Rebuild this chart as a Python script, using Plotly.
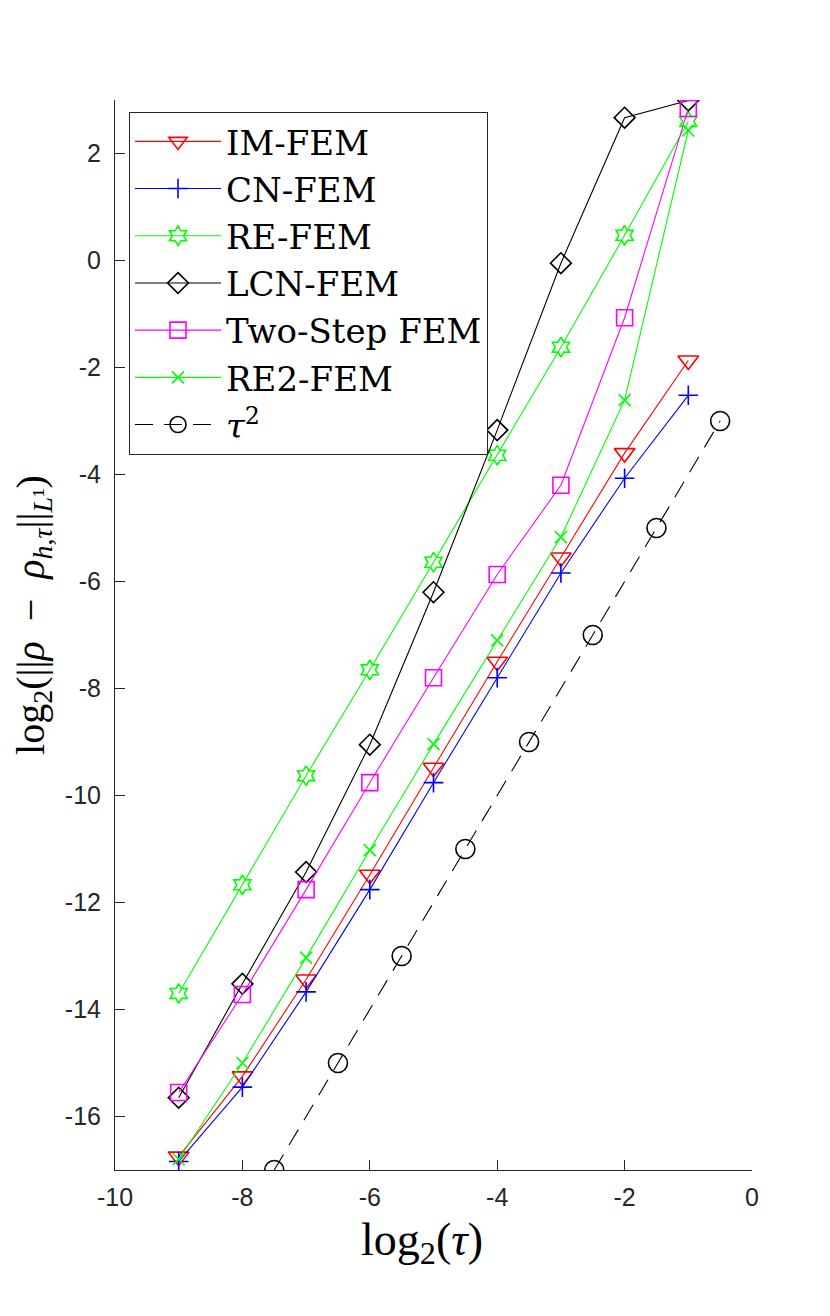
import plotly.graph_objects as go

# ---- data ----
log2_tau = [-9, -8, -7, -6, -5, -4, -3, -2, -1]
im_fem = [-16.75, -15.25, -13.44, -11.48, -9.48, -7.5, -5.55, -3.6, -1.87]
cn_fem = [-16.84, -15.45, -13.67, -11.76, -9.76, -7.8, -5.84, -4.07, -2.52]
re_fem = [-13.7, -11.67, -9.63, -7.65, -5.64, -3.64, -1.62, 0.47, 2.6]
lcn_fem = [-15.65, -13.52, -11.43, -9.05, -6.2, -3.17, -0.05, 2.67, 2.99]
two_step_fem = [-15.55, -13.72, -11.76, -9.76, -7.8, -5.87, -4.2, -1.07, 2.84]
re2_fem = [-16.8, -15.0, -13.03, -11.02, -9.04, -7.1, -5.17, -2.61, 2.43]
ref_x = [-7.5, -6.5, -5.5, -4.5, -3.5, -2.5, -1.5, -0.5]
ref_y = [-17, -15, -13, -11, -9, -7, -5, -3]

x_ticks = [-10, -8, -6, -4, -2, 0]
x_ticktext = ["-10", "-8", "-6", "-4", "-2", "0"]
y_ticks = [-16, -14, -12, -10, -8, -6, -4, -2, 0, 2]
y_ticktext = ["-16", "-14", "-12", "-10", "-8", "-6", "-4", "-2", "0", "2"]

series = [
    ("IM-FEM", log2_tau, im_fem, "#FF0000", "triangle-down-open", 18, "solid"),
    ("CN-FEM", log2_tau, cn_fem, "#0000FF", "cross-thin-open", 14, "solid"),
    ("RE-FEM", log2_tau, re_fem, "#00FF00", "hexagram-open", 15, "solid"),
    ("LCN-FEM", log2_tau, lcn_fem, "#000000", "diamond-open", 16, "solid"),
    ("Two-Step FEM", log2_tau, two_step_fem, "#FF00FF", "square-open", 16, "solid"),
    ("RE2-FEM", log2_tau, re2_fem, "#00FF00", "x-thin-open", 12, "solid"),
    ("<i>τ</i><sup>2</sup>", ref_x, ref_y, "#000000", "circle-open", 19, "18px,11px"),
]

fig = go.Figure()
for name, xs, ys, color, sym, size, dash in series:
    fig.add_trace(go.Scatter(
        x=xs, y=ys, name=name, mode="lines+markers",
        line=dict(color=color, width=1.1, dash=dash),
        marker=dict(symbol=sym, size=size, color=color,
                    line=dict(color=color, width=1.6)),
    ))

axis_color = "#262626"
ytitle = ("&nbsp;&nbsp;&nbsp;&nbsp;log<sub>2</sub>(||<i>ρ</i>  −  <i>ρ</i><sub><i>h</i>,<i>τ</i></sub>||"
          "<sub><i>L</i>¹</sub>)")
xtitle = "log<sub>2</sub>(<i>τ</i>)&nbsp;&nbsp;"
fig.update_layout(
    width=830, height=1316,
    paper_bgcolor="white", plot_bgcolor="white",
    margin=dict(l=107, r=86, t=92, b=154),
    showlegend=True,
    legend=dict(
        x=0.022, y=0.989, xanchor="left", yanchor="top",
        bgcolor="white", bordercolor=axis_color, borderwidth=1,
        font=dict(family="DejaVu Serif", size=34, color="black"),
        itemwidth=86, tracegroupgap=0,
    ),
    xaxis=dict(
        range=[-10, 0], tickvals=x_ticks, ticktext=x_ticktext,
        showgrid=False, zeroline=False, showline=True, linecolor=axis_color,
        linewidth=1, ticks="inside", ticklen=10, tickcolor=axis_color,
        tickfont=dict(family="Liberation Sans", size=25, color=axis_color),
        ticklabelstandoff=5,
        title=dict(text=xtitle, standoff=12,
                   font=dict(family="Liberation Serif", size=46, color="black")),
    ),
    yaxis=dict(
        range=[-17, 3], tickvals=y_ticks, ticktext=y_ticktext,
        showgrid=False, zeroline=False, showline=True, linecolor=axis_color,
        linewidth=1, ticks="inside", ticklen=10, tickcolor=axis_color,
        tickfont=dict(family="Liberation Sans", size=25, color=axis_color),
        ticklabelstandoff=8,
        title=dict(text=ytitle, standoff=18,
                   font=dict(family="Liberation Serif", size=40, color="black")),
    ),
)

fig.write_html("out.html")
